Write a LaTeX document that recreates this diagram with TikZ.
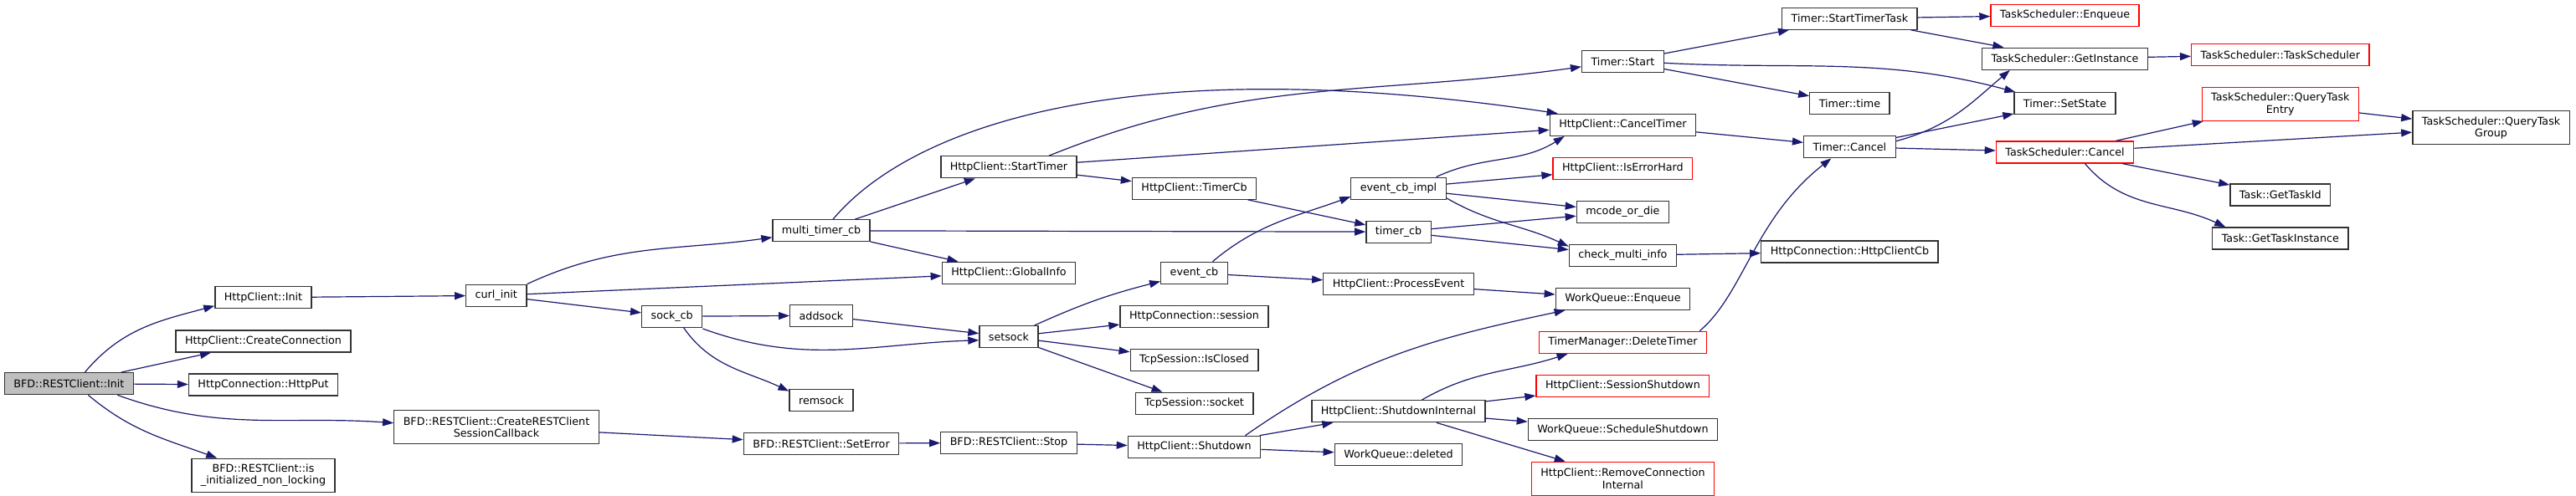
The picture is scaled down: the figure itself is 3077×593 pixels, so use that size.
\documentclass[tikz,border=0pt]{standalone}
\usepackage{fontspec}
\setmainfont{DejaVu Sans}
\usetikzlibrary{positioning,arrows.meta}
\definecolor{edgeblue}{HTML}{191970}
\definecolor{boxline}{HTML}{333333}
\definecolor{rootgray}{HTML}{BFBFBF}

\begin{document}
\begin{tikzpicture}[
  x=1pt, y=1pt,
  node distance=24.7pt,
  box/.style={rectangle, draw=boxline, line width=1.3pt, fill=white, minimum height=26pt, inner xsep=11pt, inner ysep=4pt, align=center, font=\fontsize{12.7}{14.5}\selectfont},
  redbox/.style={box, draw=red},
  rootbox/.style={box, fill=rootgray},
  twoline/.style={minimum height=40pt},
  edge/.style={-{Triangle[length=13pt,width=9pt]}, draw=edgeblue, line width=1.2pt},
]
\path[use as bounding box, fill=white] (0,0) rectangle (3077,-593);

% callers on the left
\node[rootbox] (restinit) at (82.4,-458.7) {BFD::RESTClient::Init};
\node[box] (hcinit) at (314.5,-355.7) {HttpClient::Init};
\node[box] (createconn) at (314.5,-408) {HttpClient::CreateConnection};
\node[box, below=of createconn] (httpput) {HttpConnection::HttpPut};
\node[box, twoline] (isinit) at (314.5,-568.3) {BFD::RESTClient::is\\\_initialized\_non\_locking};
\node[box] (curlinit) at (592.8,-353.3) {curl\_init};
\node[box, twoline] (createcb) at (593,-510.7) {BFD::RESTClient::CreateRESTClient\\SessionCallback};
\node[box] (sockcb) at (802.7,-378.3) {sock\_cb};
\node[box] (multitimer) at (981,-275.8) {multi\_timer\_cb};
\node[box] (addsock) at (981,-377.3) {addsock};
\node[box] (remsock) at (981,-478.3) {remsock};
\node[box, below=of remsock] (seterror) {BFD::RESTClient::SetError};
\node[box] (starttimer) at (1205,-199.8) {HttpClient::StartTimer};
\node[box] (globalinfo) at (1205,-326.3) {HttpClient::GlobalInfo};
\node[box] (setsock) at (1205,-402.7) {setsock};
\node[box] (stop) at (1205,-529.3) {BFD::RESTClient::Stop};

% middle columns
\node[box] (timercb) at (1426.5,-225.2) {HttpClient::TimerCb};
\node[box] (eventcb) at (1426.5,-326.3) {event\_cb};
\node[box, below=of eventcb] (session) {HttpConnection::session};
\node[box, below=of session] (isclosed) {TcpSession::IsClosed};
\node[box, below=of isclosed] (tcpsocket) {TcpSession::socket};
\node[box, below=of tcpsocket] (shutdown) {HttpClient::Shutdown};
\node[box] (eventcbimpl) at (1670.5,-225.2) {event\_cb\_impl};
\node[box, below=of eventcbimpl] (tcb) {timer\_cb};
\node[box] (processevent) at (1670.5,-339.7) {HttpClient::ProcessEvent};
\node[box] (shutdownint) at (1670.5,-491.7) {HttpClient::ShutdownInternal};
\node[box, below=of shutdownint] (wqdeleted) {WorkQueue::deleted};
\node[box] (timerstart) at (1938.4,-73.3) {Timer::Start};
\node[box] (canceltimer) at (1938.4,-149.3) {HttpClient::CancelTimer};
\node[redbox, below=of canceltimer] (iserrorhard) {HttpClient::IsErrorHard};
\node[box, below=of iserrorhard] (mcode) {mcode\_or\_die};
\node[box, below=of mcode] (checkmulti) {check\_multi\_info};
\node[box, below=of checkmulti] (wqenqueue) {WorkQueue::Enqueue};
\node[redbox, below=of wqenqueue] (deletetimer) {TimerManager::DeleteTimer};
\node[redbox, below=of deletetimer] (sessionshut) {HttpClient::SessionShutdown};
\node[box, below=of sessionshut] (schedshut) {WorkQueue::ScheduleShutdown};
\node[redbox, twoline, below=of schedshut] (removeconn) {HttpClient::RemoveConnection\\Internal};

% timers and scheduler
\node[box] (starttimertask) at (2209.4,-22.2) {Timer::StartTimerTask};
\node[box] (timertime) at (2209.4,-123.7) {Timer::time};
\node[box, below=of timertime] (timercancel) {Timer::Cancel};
\node[box] (httpclientcb) at (2209.4,-301) {HttpConnection::HttpClientCb};
\node[redbox] (tsenqueue) at (2466.5,-18.2) {TaskScheduler::Enqueue};
\node[box, below=of tsenqueue] (getinstance) {TaskScheduler::GetInstance};
\node[box] (setstate) at (2466.5,-123.7) {Timer::SetState};
\node[redbox] (tscancel) at (2466.5,-182) {TaskScheduler::Cancel};
\node[redbox] (tsctor) at (2723.8,-65.3) {TaskScheduler::TaskScheduler};
\node[redbox, twoline, below=of tsctor] (queryentry) {TaskScheduler::QueryTask\\Entry};
\node[box] (gettaskid) at (2723.8,-233) {Task::GetTaskId};
\node[box, below=of gettaskid] (gettaskinst) {Task::GetTaskInstance};
\node[box, twoline] (querygroup) at (2975.5,-152.8) {TaskScheduler::QueryTask\\Group};

% calls
\draw[edge] ([xshift=19pt]restinit.north) to[out=50,in=195] ([yshift=-10pt]hcinit.west);
\draw[edge] (restinit) -- (createconn);
\draw[edge] (restinit) -- (httpput);
\draw[edge] ([xshift=58pt]restinit.south) to[out=-20,in=176] ([yshift=5pt]createcb.west);
\draw[edge] ([xshift=23pt]restinit.south) to[out=-40,in=160] ([xshift=31pt]isinit.north west);
\draw[edge] (hcinit) -- (curlinit);
\draw[edge] (curlinit.north east) to[out=25,in=188] ([yshift=-8pt]multitimer.west);
\draw[edge] (curlinit) -- (globalinfo);
\draw[edge] (curlinit) -- (sockcb);
\draw[edge] ([xshift=14pt]multitimer.north) .. controls +(95,113) and +(-509,76) .. ([xshift=10pt]canceltimer.north west);
\draw[edge] (multitimer) -- (starttimer);
\draw[edge] (multitimer) -- (tcb);
\draw[edge] (multitimer) -- (globalinfo);
\draw[edge] ([xshift=48pt]starttimer.north) to[out=22,in=188] ([yshift=-6.5pt]timerstart.west);
\draw[edge] (starttimer) -- (canceltimer);
\draw[edge] (starttimer) -- (timercb);
\draw[edge] (timercb) -- (tcb);
\draw[edge] (tcb) -- (mcode);
\draw[edge] (tcb) -- (checkmulti);
\draw[edge] ([xshift=45pt]eventcbimpl.north) to[out=25,in=212] ([xshift=18pt]canceltimer.south west);
\draw[edge] (eventcbimpl) -- (iserrorhard);
\draw[edge] (eventcbimpl) -- (mcode);
\draw[edge] ([yshift=2pt]eventcbimpl.south east) to[out=-30,in=155] ([yshift=-3pt]checkmulti.north west);
\draw[edge] ([xshift=22pt]eventcb.north) to[out=40,in=200] ([yshift=-10pt]eventcbimpl.west);
\draw[edge] (eventcb) -- (processevent);
\draw[edge] (processevent) -- (wqenqueue);
\draw[edge] (sockcb) -- (addsock);
\draw[edge] ([yshift=-1pt]sockcb.south east) to[out=-20,in=182] ([yshift=-4pt]setsock.west);
\draw[edge] ([xshift=14pt]sockcb.south) to[out=-55,in=155] ([yshift=-3pt]remsock.north west);
\draw[edge] (addsock) -- (setsock);
\draw[edge] (setsock) to[bend left=5] (eventcb);
\draw[edge] (setsock) -- (session);
\draw[edge] (setsock) -- (isclosed);
\draw[edge] (setsock) -- (tcpsocket);
\draw[edge] (createcb) -- (seterror);
\draw[edge] (seterror) -- (stop);
\draw[edge] (stop) -- (shutdown);
\draw[edge] ([xshift=61pt]shutdown.north) to[out=35,in=192] ([xshift=12pt]wqenqueue.south west);
\draw[edge] (shutdown) -- (shutdownint);
\draw[edge] (shutdown) -- (wqdeleted);
\draw[edge] ([xshift=28pt]shutdownint.north) to[out=30,in=198] ([xshift=35pt]deletetimer.south west);
\draw[edge] (shutdownint) -- (sessionshut);
\draw[edge] (shutdownint) -- (schedshut);
\draw[edge] (shutdownint) -- (removeconn);
\draw[edge] ([xshift=-9pt]deletetimer.north east) .. controls +(53,45) and +(-92,-72) .. ([xshift=-22pt]timercancel.south);
\draw[edge] (checkmulti) -- (httpclientcb);
\draw[edge] (canceltimer) -- (timercancel);
\draw[edge] (timerstart) -- (starttimertask);
\draw[edge] (timerstart) -- (timertime);
\draw[edge] ([yshift=-2pt]timerstart.east) to[out=-3,in=165] ([xshift=2pt]setstate.north west);
\draw[edge] (starttimertask) -- (tsenqueue);
\draw[edge] (starttimertask) -- (getinstance);
\draw[edge] ([yshift=7pt]timercancel.east) .. controls +(64,17) and +(-45,-38) .. ([xshift=34pt]getinstance.south west);
\draw[edge] (timercancel) -- (setstate);
\draw[edge] (timercancel) -- (tscancel);
\draw[edge] (getinstance) -- (tsctor);
\draw[edge] (tscancel) -- (queryentry);
\draw[edge] (tscancel) -- (querygroup);
\draw[edge] (tscancel) -- (gettaskid);
\draw[edge] ([xshift=24pt]tscancel.south) to[out=-50,in=155] ([xshift=16pt]gettaskinst.north west);
\draw[edge] (queryentry) -- (querygroup);
\end{tikzpicture}
\end{document}
